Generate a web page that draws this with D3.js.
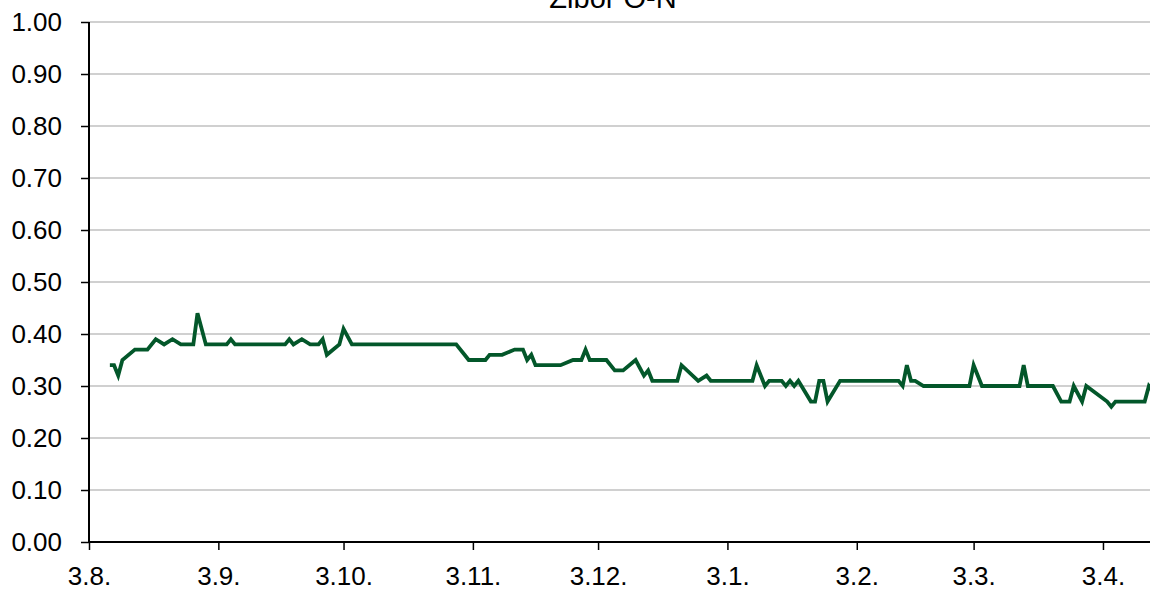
<!DOCTYPE html>
<html>
<head>
<meta charset="utf-8">
<script src="https://cdn.jsdelivr.net/npm/d3@7"></script>
<style>
  html, body { margin: 0; padding: 0; background: #fff; overflow: hidden; }
  svg { display: block; font-family: "Liberation Sans", Arial, sans-serif; }
</style>
</head>
<body>
<svg id="chart" width="1150" height="591"></svg>
<script>
const title = "Zibor O-N";
const dates = [
  "2008-08-08","2008-08-09","2008-08-10","2008-08-11","2008-08-14","2008-08-17","2008-08-19","2008-08-21",
  "2008-08-23","2008-08-25","2008-08-28","2008-08-29","2008-08-31","2008-09-05","2008-09-06","2008-09-07",
  "2008-09-19","2008-09-20","2008-09-21","2008-09-23","2008-09-25","2008-09-27","2008-09-28","2008-09-29",
  "2008-10-02","2008-10-03","2008-10-05","2008-10-30","2008-11-01","2008-11-02","2008-11-06","2008-11-07",
  "2008-11-10","2008-11-13","2008-11-15","2008-11-16","2008-11-17","2008-11-18","2008-11-24","2008-11-27",
  "2008-11-29","2008-11-30","2008-12-01","2008-12-05","2008-12-07","2008-12-09","2008-12-12","2008-12-14",
  "2008-12-15","2008-12-16","2008-12-22","2008-12-23","2008-12-27","2008-12-29","2008-12-30","2009-01-09",
  "2009-01-10","2009-01-12","2009-01-13","2009-01-16","2009-01-17","2009-01-18","2009-01-19","2009-01-20",
  "2009-01-23","2009-01-24","2009-01-25","2009-01-26","2009-01-27","2009-01-30","2009-02-13","2009-02-14",
  "2009-02-15","2009-02-16","2009-02-17","2009-02-19","2009-03-02","2009-03-03","2009-03-05","2009-03-14",
  "2009-03-15","2009-03-16","2009-03-22","2009-03-24","2009-03-26","2009-03-27","2009-03-29","2009-03-30",
  "2009-04-04","2009-04-05","2009-04-06","2009-04-13","2009-04-14","2009-04-15"
];
const values = [
  0.34,0.34,0.32,0.35,0.37,0.37,0.39,0.38,
  0.39,0.38,0.38,0.44,0.38,0.38,0.39,0.38,
  0.38,0.39,0.38,0.39,0.38,0.38,0.39,0.36,
  0.38,0.41,0.38,0.38,0.36,0.35,0.35,0.36,
  0.36,0.37,0.37,0.35,0.36,0.34,0.34,0.35,
  0.35,0.37,0.35,0.35,0.33,0.33,0.35,0.32,
  0.33,0.31,0.31,0.34,0.31,0.32,0.31,0.31,
  0.34,0.30,0.31,0.31,0.30,0.31,0.30,0.31,
  0.27,0.27,0.31,0.31,0.27,0.31,0.31,0.30,
  0.34,0.31,0.31,0.30,0.30,0.34,0.30,0.30,
  0.34,0.30,0.30,0.27,0.27,0.30,0.27,0.30,
  0.27,0.26,0.27,0.27,0.30,0.29
];
const xTickDates = ["2008-08-03","2008-09-03","2008-10-03","2008-11-03","2008-12-03","2009-01-03","2009-02-03","2009-03-03","2009-04-03"];
const yTicks = [0,0.1,0.2,0.3,0.4,0.5,0.6,0.7,0.8,0.9,1.0];
const xDomain = ["2008-08-03 00:00","2009-04-14 06:30"];

const parseDay = d3.timeParse("%Y-%m-%d");
const parseDT = d3.timeParse("%Y-%m-%d %H:%M");
const data = dates.map((d, i) => ({ date: parseDay(d), value: values[i] }));

const svg = d3.select("#chart");
const mLeft = 89, mRight = 1150, mTop = 22, mBottom = 542;

const x = d3.scaleTime().domain(xDomain.map(parseDT)).range([mLeft, mRight]);
const y = d3.scaleLinear().domain([0, 1]).range([mBottom, mTop]);

// gridlines
svg.append("g")
  .selectAll("line")
  .data(yTicks.filter(t => t > 0))
  .join("line")
  .attr("x1", mLeft).attr("x2", mRight)
  .attr("y1", d => y(d)).attr("y2", d => y(d))
  .attr("stroke", "#c0c0c0")
  .attr("stroke-width", 1.6);

// clip
svg.append("defs").append("clipPath").attr("id", "clip")
  .append("rect").attr("x", mLeft).attr("y", 0).attr("width", mRight - mLeft).attr("height", mBottom);

// line
svg.append("path")
  .datum(data)
  .attr("clip-path", "url(#clip)")
  .attr("fill", "none")
  .attr("stroke", "#03572a")
  .attr("stroke-width", 3.8)
  .attr("stroke-linejoin", "miter")
  .attr("d", d3.line().x(d => x(d.date)).y(d => y(d.value)));

// y axis
const yAxis = svg.append("g")
  .attr("transform", `translate(${mLeft},0)`)
  .call(d3.axisLeft(y).tickValues(yTicks).tickFormat(d3.format(".2f")).tickSize(8).tickPadding(19));
yAxis.select(".domain").attr("stroke", "#000").attr("stroke-width", 2).attr("d", `M0,${mTop}V${mBottom}`);
yAxis.selectAll(".tick line").attr("stroke", "#000").attr("stroke-width", 1.5);
yAxis.selectAll(".tick text").attr("font-size", 26).attr("fill", "#000")
  .attr("font-family", "'Liberation Sans', Arial, sans-serif");

// x axis
const xAxis = svg.append("g")
  .attr("transform", `translate(0,${mBottom})`)
  .call(d3.axisBottom(x).tickValues(xTickDates.map(parseDay)).tickFormat(d3.timeFormat("%-d.%-m.")).tickSize(8).tickPadding(17));
xAxis.select(".domain").attr("stroke", "#000").attr("stroke-width", 2).attr("d", `M${mLeft},0H${mRight}`);
xAxis.selectAll(".tick line").attr("stroke", "#000").attr("stroke-width", 1.5);
xAxis.selectAll(".tick text").attr("font-size", 26).attr("fill", "#000")
  .attr("font-family", "'Liberation Sans', Arial, sans-serif");

// title (cut off at the top edge, as in the reference)
svg.append("text")
  .attr("x", 613).attr("y", 8)
  .attr("text-anchor", "middle")
  .attr("font-size", 29)
  .attr("fill", "#000")
  .text(title);
</script>
</body>
</html>
